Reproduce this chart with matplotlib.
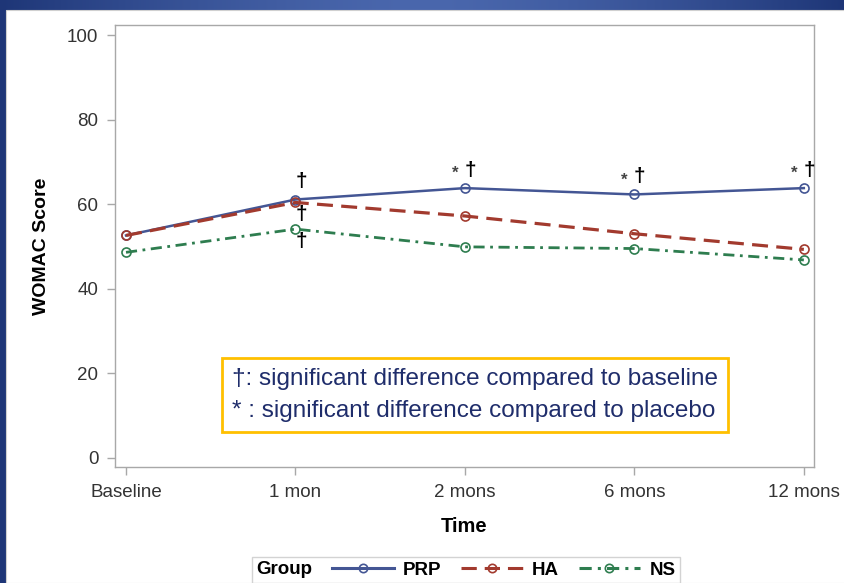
import numpy as np
import matplotlib
matplotlib.use("Agg")
import matplotlib.pyplot as plt
from matplotlib.lines import Line2D
from matplotlib.patches import Rectangle

plt.rcParams['font.family'] = ['Liberation Sans', 'DejaVu Sans']

# ---- data -------------------------------------------------------------
time_labels = ["Baseline", "1 mon", "2 mons", "6 mons", "12 mons"]
groups = ["PRP", "HA", "NS"]
prp = [52.6, 61.1, 63.8, 62.3, 63.8]
ha = [52.6, 60.4, 57.2, 53.0, 49.3]
ns = [48.6, 54.1, 49.9, 49.5, 46.8]

# significance flags per group and time point
sig_baseline = {"PRP": [0, 1, 1, 1, 1], "HA": [0, 1, 0, 0, 0], "NS": [0, 1, 0, 0, 0]}
sig_placebo = {"PRP": [0, 0, 1, 1, 1], "HA": [0, 0, 0, 0, 0], "NS": [0, 0, 0, 0, 0]}

y_ticks = [0, 20, 40, 60, 80, 100]

colors = {"PRP": "#445694", "HA": "#A23A2E", "NS": "#2E7D4F"}
styles = {"PRP": "-", "HA": (0, (5, 2.6)), "NS": (0, (4, 2, 1, 2))}
widths = {"PRP": 1.8, "HA": 2.3, "NS": 2.0}

# ---- figure & slide background ----------------------------------------
W, H = 845, 583
fig = plt.figure(figsize=(W / 100, H / 100), dpi=100)
bg = fig.add_axes([0, 0, 1, 1], zorder=-10)
bg.set_xlim(0, W)
bg.set_ylim(H, 0)
bg.axis("off")
bg.add_patch(Rectangle((0, 0), W, H, color="#1E3677"))
xs = np.linspace(-1, 1, 400)
grad = 1 - np.abs(xs) ** 1.5
top = np.array([0x1E, 0x36, 0x77]) / 255
mid = np.array([0x4A, 0x67, 0xAD]) / 255
band = top[None, :] + grad[:, None] * (mid - top)[None, :]
bg.imshow(band[None, :, :], extent=(0, W, 10, 0), aspect="auto", zorder=1)
bg.add_patch(Rectangle((6, 10), W - 6, H - 10, facecolor="white",
                       edgecolor="#D0D0D0", lw=0.8, zorder=2))

# ---- main plot --------------------------------------------------------
ax = fig.add_axes([115 / W, 1 - 467 / H, (814 - 115) / W, (467 - 25) / H])
x = np.arange(len(time_labels))
series = {"PRP": prp, "HA": ha, "NS": ns}
for g in groups:
    ax.plot(x, series[g], color=colors[g], linestyle=styles[g], lw=widths[g],
            marker="o", markersize=6.5, markerfacecolor="none",
            markeredgewidth=1.2, label=g, zorder=3)

ax.set_xlim(-0.065, 4.06)
ax.set_ylim(-2.2, 102.4)
ax.set_xticks(x)
ax.set_xticklabels(time_labels)
ax.set_yticks(y_ticks)
for s in ax.spines.values():
    s.set_color("#A8A8A8")
    s.set_linewidth(1.0)
ax.tick_params(axis="both", colors="#A8A8A8", labelcolor="#333333",
               length=6, width=1.0, labelsize=13.5, pad=6)
ax.set_xlabel("Time", fontsize=14.5, fontweight="bold", labelpad=12)
ax.set_ylabel("WOMAC Score", fontsize=14, fontweight="bold", labelpad=12)

# significance markers
for i in x:
    if sig_baseline["PRP"][i]:
        ax.annotate("\u2020", (i, prp[i]), xytext=(4, 6), textcoords="offset points",
                    ha="center", va="bottom", fontsize=15, fontweight="bold", color="black")
    if sig_placebo["PRP"][i]:
        ax.annotate("*", (i, prp[i]), xytext=(-7, 5), textcoords="offset points",
                    ha="center", va="bottom", fontsize=12, fontweight="bold", color="#444444")
    if sig_baseline["HA"][i]:
        ax.annotate("\u2020", (i, ha[i]), xytext=(4, -2), textcoords="offset points",
                    ha="center", va="top", fontsize=15, fontweight="bold", color="black")
    if sig_baseline["NS"][i]:
        ax.annotate("\u2020", (i, ns[i]), xytext=(4, -2), textcoords="offset points",
                    ha="center", va="top", fontsize=15, fontweight="bold", color="black")

# footnote box
fig.text(232 / W, 1 - 395 / H,
         "\u2020: significant difference compared to baseline\n"
         "* : significant difference compared to placebo",
         fontsize=17.5, color="#1F2D6B", ha="left", va="center", linespacing=1.6,
         bbox=dict(boxstyle="square,pad=0.4", facecolor="white",
                   edgecolor="#FFC000", linewidth=2))

# legend with the title placed to the left of the entries
handles = [Line2D([0], [0], color=colors[g], linestyle=styles[g], lw=2.2,
                  marker="o", markersize=6, markerfacecolor="none",
                  markeredgewidth=1.2) for g in groups]
leg = fig.legend(handles, groups, loc="center", bbox_to_anchor=(466 / W, 1 - 570 / H),
                 ncol=3, title="Group", frameon=True, fancybox=False,
                 handlelength=3.3, handletextpad=0.5, columnspacing=0.6,
                 borderpad=0.25, prop={"size": 13.5, "weight": "bold"},
                 title_fontproperties={"size": 13.5, "weight": "bold"})
leg.get_frame().set_edgecolor("#C8C8C8")
leg.get_frame().set_linewidth(1.0)
box = leg.get_children()[0]
title_box = box.get_children()[0]
entries = box.get_children()[1]
box._children = [entries]
entries._children = [title_box] + entries.get_children()
entries.sep = 14
entries.align = "center"

fig.savefig("out.png", dpi=100)
